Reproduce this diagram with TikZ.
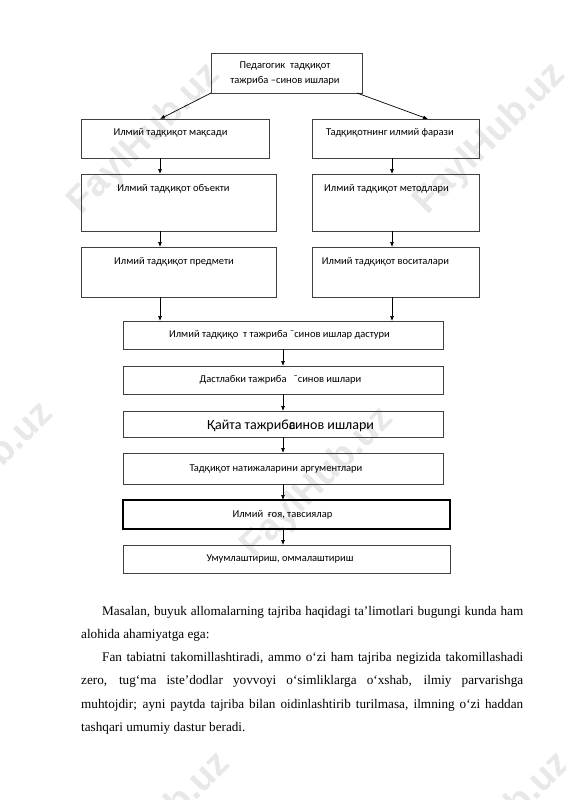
\documentclass[tikz,border=0pt]{standalone}
\usepackage{fontspec}
\usetikzlibrary{arrows.meta}
\newfontfamily\dfont{Carlito}
\newfontfamily\bodyfont{Liberation Serif}
\newfontfamily\wmfont{Liberation Sans}
\tikzset{
  box/.style={draw=black!75, line width=0.8pt, inner sep=0pt, outer sep=0pt, anchor=north west},
  txt/.style={font=\dfont\fontsize{10.5}{13}\selectfont, inner sep=0pt},
  bigtxt/.style={font=\dfont\fontsize{14}{16}\selectfont, inner sep=0pt},
  arr/.style={line width=0.7pt, -{Latex[length=5pt,width=4pt]}},
  wm/.style={font=\wmfont\bfseries\fontsize{37}{37}\selectfont, text=black!9, rotate=45, inner sep=0pt}
}
\begin{document}
\begin{tikzpicture}[x=1pt,y=-1pt]
\useasboundingbox[fill=white] (0,0) rectangle (565,800);
% watermarks
\node[wm] (w1) at (145,139) {FaylHub.uz};
\node[wm] (w2) at (490,139) {FaylHub.uz};
\node[wm] (w3) at (-22,478) {FaylHub.uz};
\node[wm] (w4) at (318,483) {FaylHub.uz};
\node[wm] (w5) at (155,828) {FaylHub.uz};
\node[wm] (w6) at (495,828) {FaylHub.uz};
% column coordinates
\coordinate (cL) at (160,0);
\coordinate (cR) at (392,0);
\coordinate (cM) at (283,0);
\coordinate (cD) at (428,0);
% boxes
\node[box, minimum width=151pt, minimum height=40pt] (top) at (211,53) {};
\node[box, minimum width=188pt, minimum height=39pt] (b1L) at (81,119) {};
\node[box, minimum width=167pt, minimum height=39pt] (b1R) at (312,119) {};
\node[box, minimum width=195pt, minimum height=57pt] (b2L) at (81,174) {};
\node[box, minimum width=167pt, minimum height=57pt] (b2R) at (312,174) {};
\node[box, minimum width=195pt, minimum height=50pt] (b3L) at (81,247) {};
\node[box, minimum width=167pt, minimum height=50pt] (b3R) at (312,247) {};
\node[box, minimum width=320pt, minimum height=28pt] (b4) at (123,321) {};
\node[box, minimum width=320pt, minimum height=28pt] (b5) at (123,366) {};
\node[box, minimum width=320pt, minimum height=26pt] (b6) at (123,411) {};
\node[box, minimum width=320pt, minimum height=31pt] (b7) at (123,453) {};
\node[box, minimum width=327pt, minimum height=29pt, draw=black, line width=1.2pt] (b8) at (123,500) {};
\node[box, minimum width=327pt, minimum height=28pt] (b9) at (123,545) {};
% texts
\node[txt, align=center] (ttop) at (285,73.5) {Педагогик\ \ тадқиқот\\[1.5pt]тажриба –синов ишлари};
\node[txt] (t1L) at (170.5,133) {Илмий тадқиқот мақсади};
\node[txt] (t1R) at (390,133) {Тадқиқотнинг илмий фарази};
\node[txt] (t2L) at (173.5,189) {Илмий тадқиқот объекти};
\node[txt] (t2R) at (386.5,189) {Илмий тадқиқот методлари};
\node[txt] (t3L) at (174,262) {Илмий тадқиқот предмети};
\node[txt] (t3R) at (385.5,262) {Илмий тадқиқот воситалари};
\node[txt] (t4) at (279.5,335) {Илмий тадқиқо\ \ т тажриба \textasciimacron синов ишлар дастури};
\node[txt] (t5) at (280.5,380) {Дастлабки тажриба\ \ \ \textasciimacron синов ишлари};
\node[bigtxt] (t6) at (290.5,426) {Қайта тажриба\kern-0.45em\relax синов ишлари};
\node[txt] (t7) at (276,469) {Тадқиқот натижаларини аргументлари};
\node[txt] (t8) at (282.5,514.5) {Илмий\ \ ғоя, тавсиялар};
\node[txt] (t9) at (280,559) {Умумлаштириш, оммалаштириш};
% connectors
\draw[arr] (top.south west) -- (b1L.north -| cL);
\draw[arr] ([xshift=-5pt]top.south east) -- (b1R.north -| cD);
\draw[arr] (b1L.south -| cL) -- (b2L.north -| cL);
\draw[arr] (b1R.south -| cR) -- (b2R.north -| cR);
\draw[arr] (b2L.south -| cL) -- (b3L.north -| cL);
\draw[arr] (b2R.south -| cR) -- (b3R.north -| cR);
\draw[arr] (b3L.south -| cL) -- (b4.north -| cL);
\draw[arr] (b3R.south -| cR) -- (b4.north -| cR);
\draw[arr] (b4.south -| cM) -- (b5.north -| cM);
\draw[arr] (b5.south -| cM) -- (b6.north -| cM);
\draw[arr] (b6.south -| cM) -- (b7.north -| cM);
\draw[arr] (b7.south -| cM) -- (b8.north -| cM);
\draw[arr] (b8.south -| cM) -- (b9.north -| cM);
% body text
\node[anchor=base west, inner sep=0pt] (body) at (81,615) {\parbox[t]{442pt}{\bodyfont\fontsize{13.2}{23.3}\selectfont
\hspace*{21pt}\makebox[421pt][s]{Masalan, buyuk allomalarning tajriba haqidagi ta’limotlari bugungi kunda ham}\\
alohida ahamiyatga ega:\\
\hspace*{21pt}\makebox[421pt][s]{Fan tabiatni takomillashtiradi, ammo o‘zi ham tajriba negizida takomillashadi}\\
\makebox[442pt][s]{zero, tug‘ma iste’dodlar yovvoyi o‘simliklarga o‘xshab, ilmiy parvarishga}\\
\makebox[442pt][s]{muhtojdir; ayni paytda tajriba bilan oidinlashtirib turilmasa, ilmning o‘zi haddan}\\
tashqari umumiy dastur beradi.}};
\end{tikzpicture}
\end{document}
